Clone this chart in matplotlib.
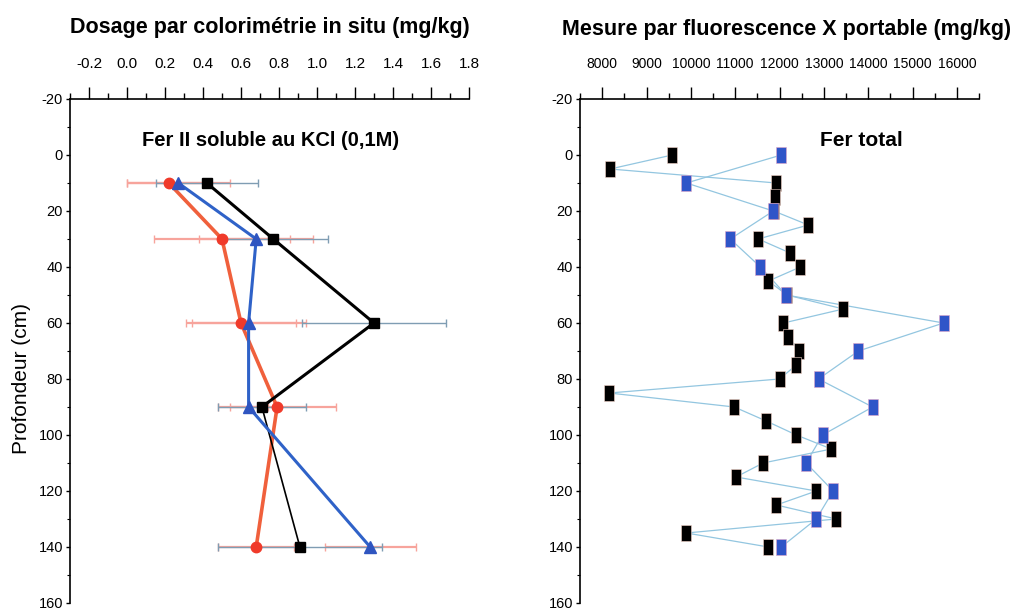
import matplotlib
matplotlib.use('Agg')
import matplotlib.pyplot as plt
from matplotlib.ticker import MultipleLocator

plt.rcParams['font.family'] = ['Liberation Sans', 'DejaVu Sans']

# Fer II soluble au KCl (0,1M) - colorimetrie in situ
prof_fe2 = [10, 30, 60, 90, 140]
fe2_noir = [0.42, 0.77, 1.30, 0.71, 0.91]
fe2_rouge = [0.22, 0.50, 0.60, 0.79, 0.68]
fe2_bleu = [0.27, 0.68, 0.64, 0.64, 1.28]
err_noir = [0.27, 0.29, 0.38, 0.23, 0.43]
err_rouge = [0.22, 0.36, 0.29, 0.31, 0.20]
err_bleu = [0.27, 0.30, 0.30, 0.10, 0.24]

# Fer total - fluorescence X portable
prof_fx_noir = [0, 5, 10, 15, 20, 25, 30, 35, 40, 45, 50, 55, 60, 65, 70,
                75, 80, 85, 90, 95, 100, 105, 110, 115, 120, 125, 130, 135, 140]
fx_noir = [9580, 8180, 11930, 11900, 11870, 12650, 11520, 12240, 12470, 11750,
           12170, 13440, 12090, 12200, 12450, 12380, 12000, 8160, 10980, 11700,
           12380, 13170, 11630, 11020, 12830, 11930, 13280, 9900, 11750]
prof_fx_bleu = [0, 10, 20, 30, 40, 50, 60, 70, 80, 90, 100, 110, 120, 130, 140]
fx_bleu = [12040, 9900, 11860, 10890, 11570, 12150, 15700, 13780, 12880, 14100,
           12970, 12600, 13210, 12830, 12040]

ticks_x1 = [-0.2, 0.0, 0.2, 0.4, 0.6, 0.8, 1.0, 1.2, 1.4, 1.6, 1.8]
labels_x1 = ['-0.2', '0.0', '0.2', '0.4', '0.6', '0.8', '1.0', '1.2', '1.4', '1.6', '1.8']
ticks_x2 = [8000, 9000, 10000, 11000, 12000, 13000, 14000, 15000, 16000]
ticks_y = [-20, 0, 20, 40, 60, 80, 100, 120, 140, 160]

fig = plt.figure(figsize=(10.18, 6.13), dpi=100)
ax1 = fig.add_axes([70 / 1018, 10 / 613, 399 / 1018, 504 / 613])
ax2 = fig.add_axes([580 / 1018, 10 / 613, 399 / 1018, 504 / 613])


def habille(ax, xticks, xlabels, xmin, xmax, xminor, taille_x):
    ax.set_xlim(xmin, xmax)
    ax.set_ylim(160, -20)
    ax.xaxis.tick_top()
    ax.spines['bottom'].set_visible(False)
    ax.spines['right'].set_visible(False)
    ax.spines['top'].set_linewidth(1.2)
    ax.spines['left'].set_linewidth(1.2)
    ax.set_xticks(xticks, xlabels)
    ax.xaxis.set_minor_locator(MultipleLocator(xminor))
    ax.set_yticks(ticks_y, [str(v) for v in ticks_y])
    ax.yaxis.set_minor_locator(MultipleLocator(10))
    ax.tick_params(axis='x', which='major', direction='out', length=9, width=1, pad=11)
    ax.tick_params(axis='x', which='minor', direction='out', length=4, width=1)
    ax.tick_params(axis='y', which='major', direction='out', length=3, width=1, pad=2)
    ax.tick_params(axis='y', which='minor', direction='out', length=2, width=0.8)
    for lab in ax.get_xticklabels():
        lab.set_fontsize(taille_x)
    for lab in ax.get_yticklabels():
        lab.set_fontsize(10.5)


habille(ax1, ticks_x1, labels_x1, -0.3, 1.8, 0.1, 11)
habille(ax2, ticks_x2, [str(v) for v in ticks_x2], 7500, 16500, 500, 10)

# barres d'erreur
ax1.errorbar(fe2_rouge, prof_fe2, xerr=err_rouge, fmt='none', ecolor='#f7a49c',
             elinewidth=1.6, capsize=3, capthick=1, zorder=1)
ax1.errorbar(fe2_bleu, prof_fe2, xerr=err_bleu, fmt='none', ecolor='#f7a49c',
             elinewidth=1.6, capsize=3, capthick=1, zorder=1)
ax1.errorbar(fe2_noir, prof_fe2, xerr=err_noir, fmt='none', ecolor='#7f9db3',
             elinewidth=1.0, capsize=3, capthick=1, zorder=2)

# profils Fer II
ax1.plot(fe2_rouge, prof_fe2, color='#f0603c', lw=2.6, marker='o', ms=7.5,
         mfc='#f03a2a', mec='#f03a2a', zorder=3)
ax1.plot(fe2_noir[:4], prof_fe2[:4], color='black', lw=2.2, zorder=4)
ax1.plot(fe2_noir[3:], prof_fe2[3:], color='black', lw=1.2, zorder=4)
ax1.plot(fe2_noir, prof_fe2, ls='none', marker='s', ms=7, color='black', zorder=5)
ax1.plot(fe2_bleu, prof_fe2, color='#2f62c8', lw=2.2, marker='^', ms=9,
         mfc='#2f55c0', mec='#2f55c0', zorder=6)

# profils Fer total
rect = [(-0.29, -0.5), (0.29, -0.5), (0.29, 0.5), (-0.29, 0.5), (-0.29, -0.5)]
ax2.plot(fx_noir, prof_fx_noir, color='#93c6e0', lw=0.9, zorder=2)
ax2.plot(fx_bleu, prof_fx_bleu, color='#93c6e0', lw=0.9, zorder=2)
ax2.plot(fx_noir, prof_fx_noir, ls='none', marker=rect, ms=12, color='black',
         mec='#f4d6cc', mew=0.4, zorder=3)
ax2.plot(fx_bleu, prof_fx_bleu, ls='none', marker=rect, ms=12, color='#2f55c8',
         mec='#e3a6c8', mew=0.4, zorder=4)

# titres
fig.text(270 / 1018, 1 - 28 / 613, 'Dosage par colorimétrie in situ (mg/kg)',
         ha='center', va='center', fontsize=15.5, fontweight='bold')
fig.text(787 / 1018, 1 - 30 / 613, 'Mesure par fluorescence X portable (mg/kg)',
         ha='center', va='center', fontsize=15.5, fontweight='bold')
fig.text(271 / 1018, 1 - 140 / 613, 'Fer II soluble au KCl (0,1M)',
         ha='center', va='center', fontsize=14.5, fontweight='bold')
fig.text(861 / 1018, 1 - 140 / 613, 'Fer total',
         ha='center', va='center', fontsize=15, fontweight='bold')
fig.text(22 / 1018, 1 - 378 / 613, 'Profondeur (cm)', rotation=90,
         ha='center', va='center', fontsize=15)

fig.savefig('out.png', dpi=100)
